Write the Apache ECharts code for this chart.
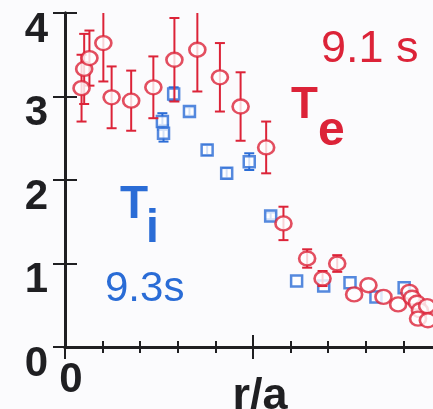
<!DOCTYPE html>
<html>
<head>
<meta charset="utf-8">
<script src="https://cdn.jsdelivr.net/npm/echarts@6/dist/echarts.min.js"></script>
<style>
  html, body { margin: 0; padding: 0; background: #fbfbfd; }
  #chart { width: 433px; height: 409px; }
</style>
</head>
<body>
<div id="chart"></div>
<script>
// Electron temperature profile (9.1 s): r/a, Te [keV], error
const teR   = [0.044, 0.051, 0.065, 0.102, 0.124, 0.176, 0.235, 0.291, 0.352, 0.412, 0.467, 0.535,
               0.581, 0.644, 0.685, 0.724, 0.769, 0.807, 0.847, 0.886, 0.916, 0.923, 0.936, 0.944,
               0.963, 0.939, 0.965];
const teVal = [3.10, 3.33, 3.46, 3.64, 2.99, 2.95, 3.11, 3.44, 3.56, 3.23, 2.88, 2.39,
               1.48, 1.06, 0.82, 1.00, 0.63, 0.74, 0.60, 0.51, 0.66, 0.59, 0.53, 0.44,
               0.49, 0.34, 0.32];
const teErr = [0.40, 0.42, 0.33, 0.46, 0.37, 0.36, 0.37, 0.50, 0.50, 0.41, 0.41, 0.31,
               0.20, 0.11, 0.09, 0.10, 0, 0, 0, 0, 0, 0, 0, 0,
               0, 0, 0];

// Ion temperature profile (9.3 s): r/a, Ti [keV], error
const tiR   = [0.259, 0.262, 0.289, 0.331, 0.378, 0.430, 0.490, 0.547, 0.616, 0.688, 0.758, 0.827, 0.902];
const tiVal = [2.70, 2.56, 3.03, 2.82, 2.36, 2.08, 2.22, 1.57, 0.79, 0.73, 0.77, 0.60, 0.71];
const tiErr = [0.10, 0.10, 0.08, 0.05, 0.06, 0.06, 0.10, 0.04, 0, 0, 0, 0, 0];

// Axis tick values
const yTicks = [0, 1, 2, 3, 4];
const xTickLabels = { 0: '0' };

const RED = '#dc2338';
const BLUE = '#2a6cd6';
const INK = '#1f1f22';
const FONT = '"Liberation Sans", Arial, sans-serif';

function errData(r, v, e) {
  return r.map((x, i) => [x, v[i], e[i]]);
}
function pts(r, v) {
  return r.map((x, i) => [x, v[i]]);
}

// Vertical error bar with end caps, clipped to the plot frame
function errorBar(color, capHalf) {
  return function (params, api) {
    const e = api.value(2);
    if (!e) return null;
    const x = api.value(0), y = api.value(1);
    const cs = params.coordSys;
    const top = api.coord([x, y + e]);
    const bot = api.coord([x, y - e]);
    const yMin = cs.y, yMax = cs.y + cs.height;
    const y1 = Math.max(top[1], yMin);
    const y2 = Math.min(bot[1], yMax);
    const style = { stroke: color, lineWidth: 2, fill: null };
    const children = [{ type: 'line', shape: { x1: top[0], y1: y1, x2: top[0], y2: y2 }, style: style }];
    if (top[1] >= yMin) children.push({ type: 'line', shape: { x1: top[0] - capHalf, y1: top[1], x2: top[0] + capHalf, y2: top[1] }, style: style });
    if (bot[1] <= yMax) children.push({ type: 'line', shape: { x1: bot[0] - capHalf, y1: bot[1], x2: bot[0] + capHalf, y2: bot[1] }, style: style });
    return { type: 'group', children: children };
  };
}

const frameLine = { show: true, lineStyle: { color: INK, width: 3 } };

const chart = echarts.init(document.getElementById('chart'), null, { renderer: 'canvas' });
chart.setOption({
  backgroundColor: '#fbfbfd',
  animation: false,
  grid: { left: 65, top: 13, width: 376, height: 334, containLabel: false, outerBoundsMode: 'none' },
  xAxis: [
    {
      type: 'value', min: 0, max: 1, interval: 0.5, position: 'bottom',
      axisLine: frameLine,
      axisTick: { show: true, inside: true, length: 12, lineStyle: { color: INK, width: 2 } },
      minorTick: { show: true, splitNumber: 5, length: 6, lineStyle: { color: INK, width: 2 } },
      splitLine: { show: false },
      axisLabel: {
        show: true, margin: 12, color: INK, fontSize: 42, fontWeight: 'bold', fontFamily: FONT,
        padding: [0, 0, 0, 12],
        formatter: v => (xTickLabels[v] !== undefined ? xTickLabels[v] : '')
      },
      name: 'r/a', nameLocation: 'middle', nameGap: 27, nameMoveOverlap: false,
      nameTextStyle: { color: INK, fontSize: 45, fontWeight: 'bold', fontFamily: FONT, padding: [0, 0, 0, 14] }
    },
    {
      type: 'value', min: 0, max: 1, interval: 0.5, position: 'top',
      axisLine: frameLine,
      axisTick: { show: true, inside: true, length: 12, lineStyle: { color: INK, width: 2 } },
      minorTick: { show: true, splitNumber: 5, length: 6, lineStyle: { color: INK, width: 2 } },
      splitLine: { show: false },
      axisLabel: { show: false }
    }
  ],
  yAxis: [
    {
      type: 'value', min: yTicks[0], max: yTicks[yTicks.length - 1], interval: 1, position: 'left',
      axisLine: frameLine,
      axisTick: { show: true, inside: true, length: 12, lineStyle: { color: INK, width: 2 } },
      splitLine: { show: false },
      axisLabel: {
        margin: 17, color: INK, fontSize: 42, fontWeight: 'bold', fontFamily: FONT,
        verticalAlign: 'top', lineHeight: 34
      }
    },
    {
      type: 'value', min: yTicks[0], max: yTicks[yTicks.length - 1], interval: 1, position: 'right',
      axisLine: frameLine,
      axisTick: { show: true, inside: true, length: 12, lineStyle: { color: INK, width: 2 } },
      splitLine: { show: false },
      axisLabel: { show: false }
    }
  ],
  series: [
    {
      name: 'Ti error', type: 'custom', xAxisIndex: 0, yAxisIndex: 0,
      renderItem: errorBar(BLUE, 5), data: errData(tiR, tiVal, tiErr), z: 2
    },
    {
      name: 'Ti', type: 'scatter', xAxisIndex: 0, yAxisIndex: 0,
      symbol: 'rect', symbolSize: 11,
      itemStyle: { color: '#ffffff', borderColor: BLUE, borderWidth: 2.5 },
      data: pts(tiR, tiVal), z: 3
    },
    {
      name: 'Te error', type: 'custom', xAxisIndex: 0, yAxisIndex: 0,
      renderItem: errorBar(RED, 5), data: errData(teR, teVal, teErr), z: 4
    },
    {
      name: 'Te', type: 'scatter', xAxisIndex: 0, yAxisIndex: 0,
      symbol: 'circle', symbolSize: [16, 14],
      itemStyle: { color: '#ffffff', borderColor: RED, borderWidth: 2.5 },
      data: pts(teR, teVal), z: 5
    }
  ],
  graphic: [
    { type: 'text', left: 321, top: 27, z: 10,
      style: { text: '9.1 s', fill: RED, font: '45px ' + FONT } },
    { type: 'text', left: 291, top: 84, z: 10,
      style: { text: 'T', fill: RED, font: 'bold 44px ' + FONT } },
    { type: 'text', left: 318, top: 108, z: 10,
      style: { text: 'e', fill: RED, font: 'bold 48px ' + FONT } },
    { type: 'text', left: 120, top: 182, z: 10,
      style: { text: 'T', fill: BLUE, font: 'bold 46px ' + FONT } },
    { type: 'text', left: 146, top: 206, z: 10,
      style: { text: 'i', fill: BLUE, font: 'bold 46px ' + FONT } },
    { type: 'text', left: 105, top: 268, z: 10,
      style: { text: '9.3s', fill: BLUE, font: '42px ' + FONT } }
  ]
});
</script>
</body>
</html>
